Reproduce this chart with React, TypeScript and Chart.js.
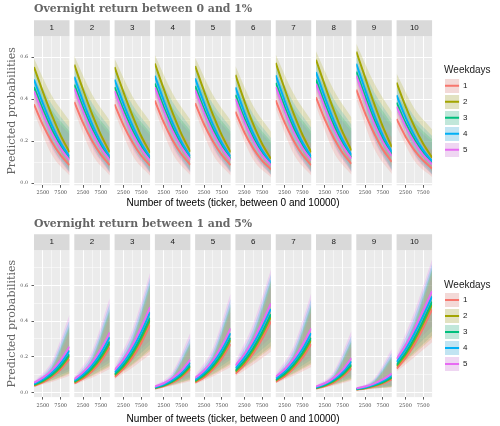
import React, { useEffect, useRef } from 'react';
import { Chart, registerables } from 'chart.js';

Chart.register(...registerables);
Chart.defaults.font.family = 'Liberation Sans';

// ---------- categories / labels ----------
const WEEKDAYS = ['1', '2', '3', '4', '5'];
const WEEKDAY_COLORS = ['#F8766D', '#A3A500', '#00BF7D', '#00B0F6', '#E76BF3'];
const FACETS = ['1', '2', '3', '4', '5', '6', '7', '8', '9', '10'];
const X_LINE = [0, 2500, 5000, 7500, 10000];
const X_BAND = [0, 5000, 10000];
const X_GRID = [2500, 5000, 7500];
const X_TICK_LABELS = [2500, 7500];
const Y_GRID_TOP = [0, 0.1, 0.2, 0.3, 0.4, 0.5, 0.6];
const Y_GRID_BOTTOM = [0, 0.1, 0.2, 0.3, 0.4, 0.5, 0.6, 0.7];
const Y_TICK_LABELS = [0, 0.2, 0.4, 0.6];

const TITLE_TOP = 'Overnight return between 0 and 1%';
const TITLE_BOTTOM = 'Overnight return between 1 and 5%';
const X_TITLE = 'Number of tweets (ticker, between 0 and 10000)';
const Y_TITLE = 'Predicted probabilities';
const LEGEND_TITLE = 'Weekdays';

// ---------- top chart: predicted lines (facet x [0,2500,5000,7500,10000]) ----------
const TOP_LINE_W1 = [
  [0.376, 0.278, 0.198, 0.134, 0.086], [0.388, 0.286, 0.202, 0.136, 0.086], [0.376, 0.277, 0.196, 0.132, 0.084],
  [0.393, 0.29, 0.205, 0.138, 0.088], [0.381, 0.281, 0.2, 0.135, 0.086], [0.341, 0.243, 0.166, 0.108, 0.066],
  [0.395, 0.29, 0.204, 0.136, 0.086], [0.409, 0.303, 0.215, 0.144, 0.092], [0.446, 0.333, 0.238, 0.16, 0.102],
  [0.306, 0.223, 0.158, 0.108, 0.07],
];
const TOP_LINE_W2 = [
  [0.553, 0.435, 0.325, 0.228, 0.147], [0.565, 0.444, 0.33, 0.23, 0.147], [0.553, 0.434, 0.323, 0.225, 0.145],
  [0.57, 0.449, 0.335, 0.234, 0.15], [0.558, 0.439, 0.327, 0.229, 0.147], [0.516, 0.392, 0.281, 0.188, 0.116],
  [0.573, 0.45, 0.334, 0.232, 0.147], [0.588, 0.465, 0.348, 0.243, 0.156], [0.627, 0.503, 0.38, 0.268, 0.172],
  [0.479, 0.367, 0.27, 0.188, 0.122],
];
const TOP_LINE_W3 = [
  [0.458, 0.35, 0.255, 0.178, 0.117], [0.47, 0.359, 0.26, 0.18, 0.117], [0.458, 0.349, 0.253, 0.176, 0.115],
  [0.475, 0.363, 0.264, 0.183, 0.119], [0.463, 0.353, 0.257, 0.179, 0.117], [0.421, 0.31, 0.217, 0.145, 0.091],
  [0.478, 0.364, 0.263, 0.181, 0.117], [0.493, 0.378, 0.275, 0.191, 0.124], [0.532, 0.413, 0.303, 0.211, 0.138],
  [0.384, 0.287, 0.208, 0.145, 0.096],
];
const TOP_LINE_W4 = [
  [0.494, 0.38, 0.278, 0.193, 0.127], [0.507, 0.389, 0.283, 0.195, 0.127], [0.494, 0.379, 0.276, 0.191, 0.125],
  [0.512, 0.394, 0.287, 0.198, 0.129], [0.499, 0.384, 0.28, 0.194, 0.127], [0.457, 0.339, 0.238, 0.158, 0.099],
  [0.514, 0.394, 0.286, 0.196, 0.127], [0.529, 0.409, 0.299, 0.207, 0.135], [0.569, 0.445, 0.328, 0.228, 0.149],
  [0.419, 0.315, 0.228, 0.158, 0.105],
];
const TOP_LINE_W5 = [
  [0.439, 0.333, 0.24, 0.166, 0.11], [0.451, 0.341, 0.245, 0.168, 0.11], [0.439, 0.332, 0.238, 0.164, 0.108],
  [0.456, 0.346, 0.248, 0.171, 0.112], [0.444, 0.336, 0.242, 0.167, 0.11], [0.402, 0.294, 0.204, 0.135, 0.086],
  [0.459, 0.346, 0.247, 0.169, 0.11], [0.473, 0.36, 0.259, 0.178, 0.117], [0.513, 0.394, 0.286, 0.197, 0.13],
  [0.365, 0.272, 0.195, 0.135, 0.09],
];

// ---------- top chart: confidence ribbons (facet x [0,5000,10000]) ----------
const TOP_LO_W1 = [[0.337, 0.136, 0.037], [0.348, 0.139, 0.037], [0.337, 0.135, 0.036], [0.353, 0.141, 0.038], [0.341, 0.137, 0.037], [0.303, 0.112, 0.028], [0.355, 0.141, 0.037], [0.368, 0.148, 0.04], [0.404, 0.166, 0.044], [0.27, 0.107, 0.03]];
const TOP_HI_W1 = [[0.417, 0.279, 0.188], [0.429, 0.284, 0.188], [0.417, 0.277, 0.185], [0.434, 0.288, 0.191], [0.422, 0.281, 0.188], [0.381, 0.239, 0.15], [0.436, 0.287, 0.188], [0.451, 0.3, 0.199], [0.49, 0.329, 0.219], [0.344, 0.229, 0.157]];
const TOP_LO_W2 = [[0.511, 0.244, 0.066], [0.523, 0.249, 0.066], [0.511, 0.242, 0.065], [0.529, 0.252, 0.067], [0.516, 0.246, 0.066], [0.474, 0.207, 0.051], [0.531, 0.251, 0.066], [0.546, 0.263, 0.07], [0.586, 0.29, 0.078], [0.436, 0.198, 0.054]];
const TOP_HI_W2 = [[0.594, 0.418, 0.298], [0.606, 0.424, 0.298], [0.594, 0.416, 0.294], [0.611, 0.429, 0.302], [0.599, 0.421, 0.298], [0.558, 0.369, 0.246], [0.613, 0.428, 0.298], [0.628, 0.444, 0.313], [0.666, 0.479, 0.34], [0.522, 0.357, 0.256]];
const TOP_LO_W3 = [[0.416, 0.179, 0.051], [0.428, 0.183, 0.051], [0.416, 0.178, 0.05], [0.433, 0.186, 0.052], [0.421, 0.18, 0.051], [0.38, 0.15, 0.039], [0.435, 0.185, 0.051], [0.45, 0.194, 0.054], [0.489, 0.216, 0.061], [0.343, 0.142, 0.041]];
const TOP_HI_W3 = [[0.5, 0.35, 0.246], [0.512, 0.356, 0.246], [0.5, 0.348, 0.242], [0.518, 0.36, 0.25], [0.505, 0.352, 0.246], [0.463, 0.304, 0.2], [0.52, 0.359, 0.246], [0.535, 0.374, 0.259], [0.575, 0.407, 0.283], [0.425, 0.293, 0.209]];
const TOP_LO_W4 = [[0.452, 0.197, 0.056], [0.464, 0.201, 0.056], [0.452, 0.195, 0.055], [0.469, 0.204, 0.057], [0.457, 0.199, 0.056], [0.415, 0.165, 0.043], [0.472, 0.203, 0.056], [0.487, 0.214, 0.06], [0.526, 0.237, 0.067], [0.378, 0.158, 0.045]];
const TOP_HI_W4 = [[0.536, 0.376, 0.264], [0.548, 0.382, 0.264], [0.536, 0.374, 0.26], [0.553, 0.387, 0.268], [0.541, 0.378, 0.264], [0.499, 0.329, 0.216], [0.556, 0.385, 0.264], [0.571, 0.401, 0.278], [0.611, 0.435, 0.303], [0.461, 0.317, 0.225]];
const TOP_LO_W5 = [[0.398, 0.168, 0.048], [0.41, 0.172, 0.048], [0.398, 0.167, 0.047], [0.415, 0.174, 0.049], [0.403, 0.169, 0.048], [0.362, 0.14, 0.037], [0.417, 0.174, 0.048], [0.432, 0.183, 0.051], [0.47, 0.203, 0.057], [0.326, 0.133, 0.039]];
const TOP_HI_W5 = [[0.481, 0.331, 0.233], [0.493, 0.337, 0.233], [0.481, 0.329, 0.229], [0.499, 0.341, 0.237], [0.486, 0.333, 0.233], [0.444, 0.287, 0.188], [0.501, 0.34, 0.233], [0.516, 0.354, 0.246], [0.556, 0.386, 0.269], [0.406, 0.276, 0.197]];

// ---------- bottom chart: predicted lines ----------
const BOT_LINE_W1 = [
  [0.037, 0.057, 0.086, 0.128, 0.187], [0.051, 0.079, 0.119, 0.176, 0.252], [0.087, 0.132, 0.194, 0.276, 0.378],
  [0.022, 0.035, 0.055, 0.085, 0.13], [0.055, 0.085, 0.128, 0.19, 0.271], [0.105, 0.153, 0.218, 0.299, 0.397],
  [0.06, 0.09, 0.134, 0.193, 0.271], [0.022, 0.035, 0.056, 0.088, 0.136], [0.015, 0.023, 0.034, 0.05, 0.073],
  [0.134, 0.192, 0.268, 0.361, 0.465],
];
const BOT_LINE_W2 = [
  [0.041, 0.063, 0.095, 0.141, 0.204], [0.057, 0.087, 0.131, 0.192, 0.273], [0.096, 0.145, 0.212, 0.299, 0.404],
  [0.025, 0.039, 0.061, 0.094, 0.143], [0.061, 0.094, 0.141, 0.207, 0.293], [0.116, 0.168, 0.237, 0.323, 0.423],
  [0.067, 0.1, 0.147, 0.211, 0.293], [0.025, 0.039, 0.062, 0.098, 0.149], [0.017, 0.025, 0.037, 0.055, 0.081],
  [0.147, 0.21, 0.29, 0.386, 0.493],
];
const BOT_LINE_W3 = [
  [0.044, 0.067, 0.1, 0.148, 0.214], [0.06, 0.092, 0.138, 0.202, 0.285], [0.102, 0.152, 0.222, 0.312, 0.418],
  [0.026, 0.041, 0.064, 0.1, 0.151], [0.065, 0.099, 0.149, 0.217, 0.306], [0.122, 0.177, 0.248, 0.336, 0.438],
  [0.07, 0.105, 0.155, 0.221, 0.306], [0.026, 0.042, 0.066, 0.103, 0.157], [0.018, 0.027, 0.04, 0.058, 0.086],
  [0.155, 0.22, 0.303, 0.401, 0.508],
];
const BOT_LINE_W4 = [
  [0.049, 0.075, 0.112, 0.164, 0.235], [0.067, 0.102, 0.153, 0.222, 0.31], [0.113, 0.168, 0.243, 0.338, 0.448],
  [0.029, 0.046, 0.072, 0.111, 0.167], [0.072, 0.11, 0.165, 0.238, 0.332], [0.136, 0.195, 0.271, 0.364, 0.468],
  [0.079, 0.117, 0.171, 0.242, 0.332], [0.029, 0.047, 0.074, 0.115, 0.174], [0.02, 0.03, 0.044, 0.066, 0.095],
  [0.171, 0.241, 0.329, 0.43, 0.537],
];
const BOT_LINE_W5 = [
  [0.055, 0.083, 0.124, 0.181, 0.257], [0.075, 0.114, 0.169, 0.243, 0.336], [0.126, 0.186, 0.266, 0.365, 0.478],
  [0.033, 0.052, 0.081, 0.123, 0.184], [0.081, 0.123, 0.182, 0.261, 0.359], [0.151, 0.214, 0.295, 0.392, 0.498],
  [0.088, 0.13, 0.188, 0.265, 0.359], [0.033, 0.052, 0.082, 0.127, 0.192], [0.023, 0.034, 0.05, 0.073, 0.106],
  [0.188, 0.264, 0.356, 0.46, 0.567],
];

// ---------- bottom chart: confidence ribbons ----------
const BOT_LO_W1 = [[0.032, 0.059, 0.094], [0.044, 0.083, 0.131], [0.076, 0.139, 0.214], [0.019, 0.038, 0.063], [0.048, 0.09, 0.143], [0.092, 0.157, 0.228], [0.052, 0.094, 0.143], [0.019, 0.038, 0.066], [0.013, 0.021, 0.028], [0.117, 0.197, 0.281]];
const BOT_HI_W1 = [[0.043, 0.123, 0.338], [0.059, 0.167, 0.428], [0.1, 0.264, 0.574], [0.026, 0.08, 0.25], [0.064, 0.18, 0.453], [0.12, 0.293, 0.594], [0.069, 0.187, 0.453], [0.026, 0.082, 0.259], [0.018, 0.054, 0.177], [0.152, 0.353, 0.659]];
const BOT_LO_W2 = [[0.036, 0.066, 0.104], [0.049, 0.092, 0.144], [0.084, 0.153, 0.233], [0.021, 0.042, 0.07], [0.053, 0.099, 0.157], [0.102, 0.172, 0.248], [0.058, 0.104, 0.157], [0.021, 0.043, 0.073], [0.015, 0.023, 0.031], [0.129, 0.215, 0.304]];
const BOT_HI_W2 = [[0.047, 0.135, 0.364], [0.066, 0.183, 0.455], [0.11, 0.286, 0.601], [0.029, 0.088, 0.271], [0.07, 0.197, 0.48], [0.132, 0.317, 0.62], [0.077, 0.204, 0.48], [0.029, 0.09, 0.281], [0.019, 0.06, 0.193], [0.167, 0.379, 0.684]];
const BOT_LO_W3 = [[0.038, 0.069, 0.109], [0.052, 0.097, 0.152], [0.089, 0.16, 0.244], [0.023, 0.044, 0.074], [0.056, 0.105, 0.165], [0.107, 0.181, 0.259], [0.061, 0.109, 0.165], [0.023, 0.045, 0.077], [0.015, 0.024, 0.033], [0.136, 0.225, 0.317]];
const BOT_HI_W3 = [[0.05, 0.143, 0.378], [0.069, 0.192, 0.47], [0.116, 0.299, 0.615], [0.03, 0.093, 0.283], [0.075, 0.207, 0.495], [0.139, 0.33, 0.634], [0.081, 0.214, 0.495], [0.03, 0.095, 0.293], [0.021, 0.064, 0.203], [0.175, 0.393, 0.696]];
const BOT_LO_W4 = [[0.042, 0.078, 0.121], [0.059, 0.108, 0.168], [0.099, 0.177, 0.267], [0.025, 0.05, 0.082], [0.063, 0.117, 0.183], [0.119, 0.199, 0.283], [0.069, 0.121, 0.183], [0.025, 0.051, 0.086], [0.017, 0.027, 0.037], [0.151, 0.247, 0.343]];
const BOT_HI_W4 = [[0.056, 0.158, 0.406], [0.077, 0.212, 0.5], [0.129, 0.324, 0.643], [0.034, 0.104, 0.308], [0.083, 0.227, 0.525], [0.155, 0.357, 0.662], [0.09, 0.235, 0.525], [0.034, 0.106, 0.319], [0.023, 0.071, 0.223], [0.193, 0.422, 0.721]];
const BOT_LO_W5 = [[0.047, 0.087, 0.135], [0.066, 0.12, 0.186], [0.11, 0.196, 0.291], [0.029, 0.056, 0.092], [0.07, 0.13, 0.201], [0.132, 0.219, 0.308], [0.077, 0.135, 0.201], [0.029, 0.057, 0.096], [0.019, 0.031, 0.042], [0.167, 0.27, 0.371]];
const BOT_HI_W5 = [[0.063, 0.174, 0.435], [0.086, 0.233, 0.53], [0.143, 0.351, 0.67], [0.038, 0.116, 0.334], [0.093, 0.249, 0.555], [0.171, 0.385, 0.688], [0.101, 0.257, 0.555], [0.038, 0.118, 0.345], [0.026, 0.079, 0.244], [0.213, 0.451, 0.745]];

// ---------- helpers ----------
function rgba(hex: string, a: number) {
  const n = parseInt(hex.slice(1), 16);
  return `rgba(${(n >> 16) & 255},${(n >> 8) & 255},${n & 255},${a})`;
}

function makeKey(color: string) {
  const c = document.createElement('canvas');
  c.width = 21;
  c.height = 14;
  const g = c.getContext('2d')!;
  g.fillStyle = '#F2F2F2';
  g.fillRect(0, 0, 14, 14);
  g.fillStyle = rgba(color, 0.2);
  g.fillRect(0, 0, 14, 14);
  g.strokeStyle = color;
  g.lineWidth = 2;
  g.beginPath();
  g.moveTo(0, 7);
  g.lineTo(14, 7);
  g.stroke();
  return c;
}

const panelBackground = {
  id: 'panelBackground',
  beforeDraw(chart: any) {
    const { ctx, chartArea } = chart;
    ctx.save();
    ctx.fillStyle = '#EBEBEB';
    Object.keys(chart.scales).forEach((id) => {
      if (!/^px\d+$/.test(id)) return;
      const s = chart.scales[id];
      ctx.fillRect(s.left, chartArea.top, s.right - s.left, chartArea.bottom - chartArea.top);
    });
    ctx.restore();
  },
};

type Spec = {
  title: string;
  lines: number[][][];
  lo: number[][][];
  hi: number[][][];
  yMin: number;
  yMax: number;
  yGrid: number[];
  titlePad: { top: number; bottom: number };
  tickPad: number;
  xTitlePad: { top: number; bottom: number };
  legendTitlePad: { top: number; bottom: number };
};

const GAP_WEIGHT = 0.1346;
// trailing no-break spaces widen the legend box so its title is not clipped
const LEGEND_TEXT_TAIL = '\u00A0'.repeat(7);

function buildScales(s: Spec) {
  const scales: any = {};
  const hidden = { display: false, drawTicks: false };
  FACETS.forEach((f, i) => {
    if (i > 0) {
      scales['sgap' + i] = { type: 'linear', axis: 'x', position: 'top', stack: 'strip', stackWeight: GAP_WEIGHT, weight: 101 - 2 * i, display: false };
    }
    scales['strip' + i] = {
      type: 'linear', axis: 'x', position: 'top', stack: 'strip', stackWeight: 1, weight: 100 - 2 * i,
      display: true, backgroundColor: '#D9D9D9',
      ticks: { display: false }, grid: hidden, border: { display: false },
      title: { display: true, text: f, color: '#1A1A1A', font: { family: 'Liberation Sans', size: 8, lineHeight: 1.2 }, padding: { top: 3.2, bottom: 3.2 } },
    };
  });
  FACETS.forEach((f, i) => {
    if (i > 0) {
      scales['pgap' + i] = { type: 'linear', axis: 'x', position: 'bottom', stack: 'panels', stackWeight: GAP_WEIGHT, weight: 2 * i - 1, display: false };
    }
    scales['px' + i] = {
      type: 'linear', axis: 'x', position: 'bottom', stack: 'panels', stackWeight: 1, weight: 2 * i,
      min: X_LINE[0], max: X_LINE[X_LINE.length - 1],
      afterBuildTicks: (a: any) => { a.ticks = X_GRID.map((v) => ({ value: v })); },
      ticks: {
        autoSkip: false, maxRotation: 0, minRotation: 0, padding: s.tickPad, color: '#4D4D4D',
        font: { family: 'DejaVu Serif', size: 5, lineHeight: 1.1 },
        callback: (v: number) => (X_TICK_LABELS.includes(v) ? String(v) : ''),
      },
      grid: {
        color: '#FFFFFF',
        lineWidth: (c: any) => (c.tick && X_TICK_LABELS.includes(c.tick.value) ? 1 : 0.5),
        tickLength: 2.5,
        tickWidth: 0.8,
        tickColor: (c: any) => (c.tick && X_TICK_LABELS.includes(c.tick.value) ? '#333333' : 'rgba(0,0,0,0)'),
      },
      border: { display: false },
    };
  });
  scales.xTitle = {
    type: 'linear', axis: 'x', position: 'bottom', weight: 50, display: true,
    ticks: { display: false }, grid: hidden, border: { display: false },
    title: { display: true, text: X_TITLE, color: '#000000', font: { family: 'Liberation Sans', size: 10, lineHeight: 1.2 }, padding: s.xTitlePad },
  };
  scales.y = {
    type: 'linear', axis: 'y', position: 'left', min: s.yMin, max: s.yMax,
    afterBuildTicks: (a: any) => { a.ticks = s.yGrid.map((v) => ({ value: v })); },
    afterFit: (a: any) => { a.width = 34; },
    ticks: {
      autoSkip: false, padding: 3.5, color: '#4D4D4D',
      font: { family: 'DejaVu Serif', size: 4.8, lineHeight: 1.2 },
      callback: (v: number) => (Y_TICK_LABELS.includes(v) ? v.toFixed(1) : ''),
    },
    grid: {
      color: '#FFFFFF',
      lineWidth: (c: any) => (c.tick && Y_TICK_LABELS.includes(c.tick.value) ? 1 : 0.5),
      tickLength: 2.5,
      tickWidth: 0.8,
      tickColor: (c: any) => (c.tick && Y_TICK_LABELS.includes(c.tick.value) ? '#333333' : 'rgba(0,0,0,0)'),
    },
    border: { display: false },
    title: { display: true, text: Y_TITLE, color: '#666666', font: { family: 'DejaVu Serif', size: 11, lineHeight: 1.2 }, padding: { top: 5.4, bottom: 0 } },
  };
  scales.yr = {
    type: 'linear', axis: 'y', position: 'right', display: true,
    ticks: { display: false }, grid: hidden, border: { display: false },
    afterFit: (a: any) => { a.width = 12; },
  };
  return scales;
}

function buildDatasets(s: Spec) {
  const ds: any[] = [];
  FACETS.forEach((f, p) => {
    WEEKDAYS.forEach((w, k) => {
      const color = WEEKDAY_COLORS[k];
      const common = { xAxisID: 'px' + p, yAxisID: 'y', pointRadius: 0, cubicInterpolationMode: 'monotone' };
      ds.push({ ...common, label: 'lo', data: X_BAND.map((x, j) => ({ x, y: s.lo[k][p][j] })), borderColor: 'rgba(0,0,0,0)', borderWidth: 0, fill: false, order: 10 });
      ds.push({ ...common, label: 'hi', data: X_BAND.map((x, j) => ({ x, y: s.hi[k][p][j] })), borderColor: 'rgba(0,0,0,0)', borderWidth: 0, fill: '-1', backgroundColor: rgba(color, 0.2), order: 10 });
      ds.push({ ...common, label: w, data: X_LINE.map((x, j) => ({ x, y: s.lines[k][p][j] })), borderColor: color, borderWidth: 2, fill: false, order: 5 - k });
    });
  });
  return ds;
}

function buildConfig(s: Spec): any {
  const keys = WEEKDAY_COLORS.map(makeKey);
  return {
    type: 'line',
    data: { datasets: buildDatasets(s) },
    options: {
      responsive: false,
      animation: false,
      devicePixelRatio: 1,
      events: [],
      layout: { padding: { left: 0, right: 6.9, top: 0, bottom: 0 } },
      scales: buildScales(s),
      plugins: {
        tooltip: { enabled: false },
        title: {
          display: true, text: s.title, align: 'start', fullSize: false, color: '#666666',
          font: { family: 'DejaVu Serif', size: 10.9, weight: 'bold', lineHeight: 1.2 },
          padding: s.titlePad,
        },
        legend: {
          display: true, position: 'right', align: 'start',
          title: { display: true, text: LEGEND_TITLE, position: 'start', color: '#1A1A1A', font: { family: 'Liberation Sans', size: 10, lineHeight: 0.8 }, padding: s.legendTitlePad },
          labels: {
            usePointStyle: true, pointStyleWidth: 7, padding: 8, color: '#1A1A1A',
            font: { family: 'Liberation Sans', size: 8 },
            generateLabels: () => WEEKDAYS.map((w, i) => ({ text: w + LEGEND_TEXT_TAIL, pointStyle: keys[i], fillStyle: 'rgba(0,0,0,0)', strokeStyle: 'rgba(0,0,0,0)', lineWidth: 0, hidden: false, datasetIndex: i })),
          },
        },
      },
    },
    plugins: [panelBackground],
  };
}

const TOP_SPEC: Spec = {
  title: TITLE_TOP,
  lines: [TOP_LINE_W1, TOP_LINE_W2, TOP_LINE_W3, TOP_LINE_W4, TOP_LINE_W5],
  lo: [TOP_LO_W1, TOP_LO_W2, TOP_LO_W3, TOP_LO_W4, TOP_LO_W5],
  hi: [TOP_HI_W1, TOP_HI_W2, TOP_HI_W3, TOP_HI_W4, TOP_HI_W5],
  yMin: -0.0098, yMax: 0.7, yGrid: Y_GRID_TOP,
  titlePad: { top: 2.4, bottom: 4.76 }, tickPad: 2, xTitlePad: { top: 0, bottom: 0.7 },
  legendTitlePad: { top: 65, bottom: 0.7 },
};

const BOTTOM_SPEC: Spec = {
  title: TITLE_BOTTOM,
  lines: [BOT_LINE_W1, BOT_LINE_W2, BOT_LINE_W3, BOT_LINE_W4, BOT_LINE_W5],
  lo: [BOT_LO_W1, BOT_LO_W2, BOT_LO_W3, BOT_LO_W4, BOT_LO_W5],
  hi: [BOT_HI_W1, BOT_HI_W2, BOT_HI_W3, BOT_HI_W4, BOT_HI_W5],
  yMin: -0.0256, yMax: 0.796, yGrid: Y_GRID_BOTTOM,
  titlePad: { top: 7.4, bottom: 3.76 }, tickPad: 3.5, xTitlePad: { top: 1.4, bottom: 0.5 },
  legendTitlePad: { top: 70, bottom: 0 },
};

function FacetChart({ spec, height }: { spec: Spec; height: number }) {
  const ref = useRef<HTMLCanvasElement>(null);
  useEffect(() => {
    const chart = new Chart(ref.current as HTMLCanvasElement, buildConfig(spec));
    return () => chart.destroy();
  }, [spec]);
  return <canvas ref={ref} width={500} height={height} style={{ display: 'block', width: 500, height }} />;
}

export default function App() {
  return (
    <div style={{ position: 'absolute', left: 0, top: 0, width: 500, height: 426, background: '#FFFFFF' }}>
      <FacetChart spec={TOP_SPEC} height={210} />
      <FacetChart spec={BOTTOM_SPEC} height={216} />
    </div>
  );
}
